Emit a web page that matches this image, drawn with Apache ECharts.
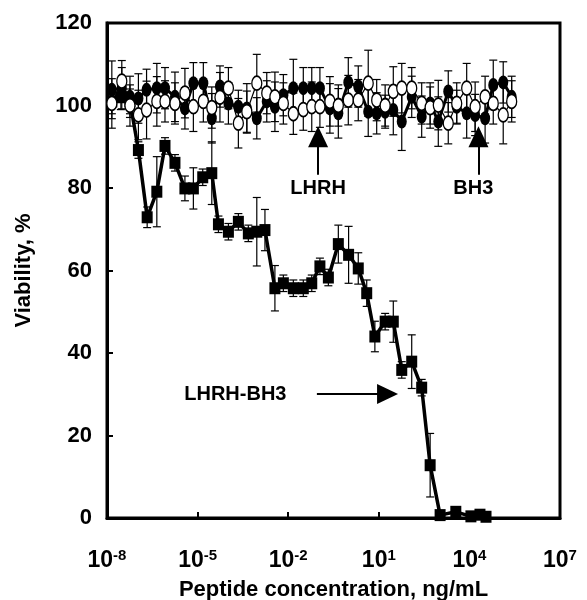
<!DOCTYPE html>
<html>
<head>
<meta charset="utf-8">
<script src="https://cdn.jsdelivr.net/npm/echarts@6/dist/echarts.min.js"></script>
<style>html,body{margin:0;padding:0;background:#fff}#c{width:587px;height:600px}</style>
</head>
<body>
<div id="c"></div>
<script>
// x values are log10 of peptide concentration (ng/mL)
const xTickLabels = ['10-8','10-5','10-2','101','104','107'];

// LHRH-BH3 (filled squares)
const conjLog = [-7.84,-7.54,-7.24,-6.96,-6.67,-6.35,-6.08,-5.75,-5.42,-5.14,-4.83,-4.53,-4.31,-3.98,-3.65,-3.32,-3.04,-2.77,-2.44,-2.16,-1.83,-1.50,-1.22,-0.95,-0.67,-0.34,0.00,0.32,0.60,0.87,1.21,1.48,1.76,2.09,2.42,2.70,3.03,3.55,4.05,4.35,4.55];
const conjVal = [101,102,101,89.2,72.9,79.1,90.2,86.1,79.9,79.9,82.6,83.6,71.2,69.4,71.8,69.0,69.4,69.8,55.7,56.9,55.7,55.7,56.9,61.0,58.3,66.4,63.8,60.5,54.5,44.0,47.6,47.6,35.9,37.9,31.6,12.8,0.7,1.5,0.4,0.8,0.3];
const conjErr = [3,3,3,2,2.5,8.5,2,2,3,5,2,7.6,2,2,2,2,8.3,5,5.5,2,2,2,2,2,2,4.6,6.9,3.8,3.2,3.7,2,5,2,6.5,2,7.7,0.5,0.5,0.5,0.5,0.5];

// BH3 (filled circles)
const bh3Log = [-7.84,-7.51,-7.24,-6.96,-6.69,-6.35,-6.08,-5.75,-5.42,-5.14,-4.81,-4.53,-4.26,-3.98,-3.65,-3.37,-3.04,-2.71,-2.44,-2.16,-1.83,-1.50,-1.22,-0.95,-0.62,-0.34,-0.01,0.32,0.65,0.93,1.21,1.48,1.76,2.09,2.42,2.70,2.97,3.30,3.58,3.91,4.19,4.52,4.79,5.12,5.40];
const bh3Val = [103.8,104.2,102.1,101.7,103.8,104.2,104.2,102.1,99.3,105.4,105.4,96.9,104.6,100.5,99.7,99.3,96.9,101.0,99.7,102.5,104.2,104.2,104.2,104.2,99.3,98.1,105.6,104.6,98.5,98.1,98.5,98.9,96.1,102.1,97.3,100.5,96.1,103.4,99.7,98.1,97.7,96.9,105.0,105.6,102.1];
const bh3Err = [7,5,5,6,5,6,5,6,5,5,5,6,5,5,4,6,5,5,6,5,7,5,5,5,6,6,6,5,6,5,4,6,7,5,5,5,6,5,4,6,5,6,6,5,5];

// LHRH (open circles)
const lhrhLog = [-7.84,-7.51,-7.24,-6.96,-6.69,-6.35,-6.08,-5.75,-5.42,-5.14,-4.81,-4.53,-4.26,-3.98,-3.65,-3.37,-3.04,-2.71,-2.44,-2.16,-1.83,-1.50,-1.22,-0.95,-0.62,-0.34,-0.01,0.32,0.65,0.93,1.21,1.48,1.76,2.09,2.42,2.70,2.97,3.30,3.58,3.91,4.19,4.52,4.79,5.12,5.40];
const lhrhVal = [100.5,105.9,100.0,97.7,98.9,101.0,101.0,100.5,103.0,99.7,101.0,99.5,102.0,104.2,95.7,98.5,105.4,103.0,102.1,100.5,98.0,99.0,99.7,99.7,101.0,100.0,101.3,101.3,105.4,101.3,100.0,103.4,104.2,104.2,100.5,99.5,100.1,95.7,100.5,104.2,99.7,102.1,100.5,97.7,101.0];
const lhrhErr = [6,5,5,6,7,6,5,5,6,6,5,5,6,5,6,5,7,5,6,5,5,5,6,5,6,5,6,5,8,5,5,6,6,5,5,5,6,5,5,6,6,5,5,7,5];

const ellipse = 'path://M50 0 A50 50 0 1 1 50 100 A50 50 0 1 1 50 0 Z';
const FONT = '"Liberation Sans", Arial, sans-serif';

function pts(xs, ys){ return xs.map((x,i)=>[x, ys[i]]); }
function errs(xs, ys, es){ return xs.map((x,i)=>[x, Math.max(0, ys[i]-es[i]), ys[i]+es[i]]); }

function errRender(params, api){
  const x = api.value(0), lo = api.value(1), hi = api.value(2);
  const a = api.coord([x, hi]), b = api.coord([x, lo]);
  const w = 4, st = {stroke:'#000', lineWidth:1.2};
  return {type:'group', children:[
    {type:'line', shape:{x1:a[0],y1:a[1],x2:b[0],y2:b[1]}, style:st},
    {type:'line', shape:{x1:a[0]-w,y1:a[1],x2:a[0]+w,y2:a[1]}, style:st},
    {type:'line', shape:{x1:b[0]-w,y1:b[1],x2:b[0]+w,y2:b[1]}, style:st}
  ]};
}

const labelMap = {};
[-8,-5,-2,1,4,7].forEach((v,i)=>{ labelMap[v] = xTickLabels[i]; });

const chart = echarts.init(document.getElementById('c'), null, {renderer:'canvas'});
chart.setOption({
  animation:false,
  backgroundColor:'#fff',
  grid:{left:107, right:27, top:23, bottom:82, outerBoundsMode:'none', containLabel:false,
    show:true, borderColor:'#000', borderWidth:3},
  xAxis:{
    type:'value', min:-8, max:7, interval:3,
    name:'Peptide concentration, ng/mL', nameLocation:'middle', nameGap:58,
    nameTextStyle:{fontFamily:FONT, fontWeight:'bold', fontSize:22, color:'#000'},
    axisLine:{show:true, onZero:false, lineStyle:{color:'#000', width:3}},
    axisTick:{show:true, inside:true, length:6, lineStyle:{color:'#000', width:2}},
    splitLine:{show:false},
    axisLabel:{
      margin:30, color:'#000',
      formatter:function(v){ const s = labelMap[v]; return '{b|10}{s|' + s.slice(2) + '}'; },
      rich:{
        b:{fontFamily:FONT, fontWeight:'bold', fontSize:23, color:'#000', lineHeight:26},
        s:{fontFamily:FONT, fontWeight:'bold', fontSize:15, color:'#000', lineHeight:26, padding:[0,0,11,0]}
      }
    }
  },
  yAxis:{
    type:'value', min:0, max:120, interval:20,
    name:'Viability, %', nameLocation:'middle', nameGap:72,
    nameTextStyle:{fontFamily:FONT, fontWeight:'bold', fontSize:22, color:'#000'},
    axisLine:{show:true, onZero:false, lineStyle:{color:'#000', width:3}},
    axisTick:{show:true, inside:true, length:6, lineStyle:{color:'#000', width:2}},
    splitLine:{show:false},
    axisLabel:{margin:15, fontFamily:FONT, fontWeight:'bold', fontSize:22, color:'#000'}
  },
  series:[
    {type:'custom', name:'errConj', renderItem:errRender, data:errs(conjLog, conjVal, conjErr), z:2, silent:true},
    {type:'custom', name:'errBH3', renderItem:errRender, data:errs(bh3Log, bh3Val, bh3Err), z:2, silent:true},
    {type:'custom', name:'errLHRH', renderItem:errRender, data:errs(lhrhLog, lhrhVal, lhrhErr), z:2, silent:true},
    {type:'line', name:'LHRH-BH3', data:pts(conjLog, conjVal), z:3,
      symbol:'rect', symbolSize:[11,12], showAllSymbol:true,
      lineStyle:{color:'#000', width:3.5}, itemStyle:{color:'#000'},
      markLine:{silent:true, symbol:['none','triangle'], symbolSize:[20,21], label:{show:false},
        lineStyle:{color:'#000', width:2, type:'solid'},
        data:[
          [{coord:[-1.05, 30.06]}, {coord:[1.29, 30.06]}],
          [{coord:[-1.01, 83.2]}, {coord:[-1.01, 92.4]}],
          [{coord:[4.30, 83.2]}, {coord:[4.30, 92.4]}]
        ]},
      markPoint:{silent:true, symbol:'circle', symbolSize:0,
        label:{show:true, fontFamily:FONT, fontWeight:'bold', fontSize:20, color:'#000', position:'inside'},
        data:[
          {coord:[-3.75, 30.06], value:'LHRH-BH3', label:{formatter:'LHRH-BH3'}},
          {coord:[-1.01, 79.8], value:'LHRH', label:{formatter:'LHRH'}},
          {coord:[4.13, 79.8], value:'BH3', label:{formatter:'BH3'}}
        ]}
    },
    {type:'line', name:'BH3', data:pts(bh3Log, bh3Val), z:4,
      symbol:ellipse, symbolSize:[10,14], showAllSymbol:true,
      lineStyle:{color:'#000', width:3}, itemStyle:{color:'#000'}},
    {type:'line', name:'LHRH', data:pts(lhrhLog, lhrhVal), z:5,
      symbol:ellipse, symbolSize:[10,14], showAllSymbol:true,
      lineStyle:{color:'#000', width:1.2}, itemStyle:{color:'#fff', borderColor:'#000', borderWidth:1.5}}
  ]
});
</script>
</body>
</html>
